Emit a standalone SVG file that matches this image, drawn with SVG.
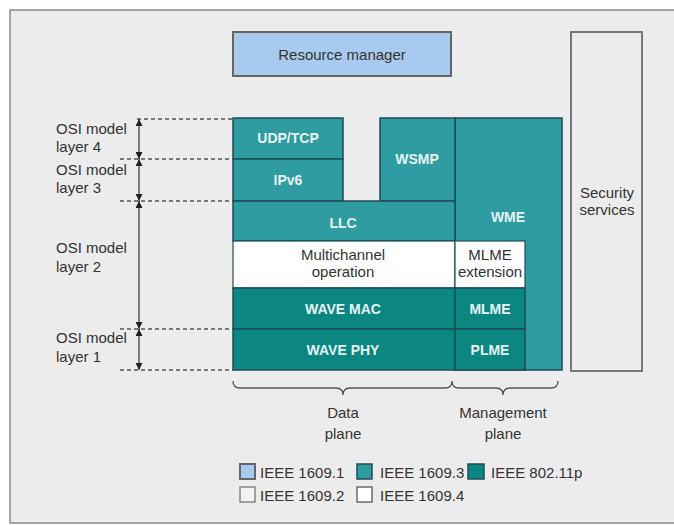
<svg xmlns="http://www.w3.org/2000/svg" width="674" height="525" viewBox="0 0 674 525">
<style>
text{font-family:"Liberation Sans",Arial,sans-serif;}
.lbl{font-size:15px;fill:#333;}
.blk{font-size:14px;font-weight:bold;fill:#e6f4f4;text-anchor:middle;}
.dk{font-size:15px;fill:#333;text-anchor:middle;}
.t3{fill:#2f9ca1;stroke:#1d4c5a;stroke-width:1.5;}
.t11p{fill:#0c8680;stroke:#1d4c5a;stroke-width:1.5;}
.wht{fill:#ffffff;stroke:#1d4c5a;stroke-width:1.2;}
.t1{fill:#a9caef;stroke:#666;stroke-width:2;}
.t2{fill:#ececec;stroke:#777;stroke-width:2;}
.dash{stroke:#555;stroke-width:1.3;stroke-dasharray:4 3;fill:none;}
.arr{stroke:#333;stroke-width:1.2;fill:none;marker-start:url(#ah);marker-end:url(#ah);}
.leg{font-size:15px;fill:#333;}
</style>
<defs>
<marker id="ah" viewBox="0 0 10 10" refX="10" refY="5" markerWidth="7" markerHeight="7" markerUnits="userSpaceOnUse" orient="auto-start-reverse">
<path d="M0,0 L10,5 L0,10 z" fill="#222"/>
</marker>
</defs>
<rect x="0" y="0" width="674" height="525" fill="#ffffff"/>
<rect x="10" y="10" width="680" height="513" fill="#ececec" stroke="#8a8a8a" stroke-width="1.5"/>

<g id="resource-manager">
<rect class="t1" x="233" y="32" width="218" height="44"/>
<text class="dk" x="342" y="60">Resource manager</text>
</g>
<g id="security-services">
<rect class="t2" x="571" y="32" width="71" height="339"/>
<text class="dk" x="607" y="198">Security</text>
<text class="dk" x="607" y="215">services</text>
</g>
<g id="wme">
<rect class="t3" x="455" y="118" width="107" height="252"/>
<text class="blk" x="508" y="222">WME</text>
</g>
<g id="udp-tcp">
<rect class="t3" x="233" y="118" width="110" height="41"/>
<text class="blk" x="288" y="143">UDP/TCP</text>
</g>
<g id="ipv6">
<rect class="t3" x="233" y="159" width="110" height="42"/>
<text class="blk" x="288" y="185">IPv6</text>
</g>
<g id="wsmp">
<rect class="t3" x="380" y="118" width="75" height="83"/>
<text class="blk" x="417" y="164">WSMP</text>
</g>
<g id="llc">
<rect class="t3" x="233" y="201" width="222" height="40"/>
<text class="blk" x="343" y="228">LLC</text>
</g>
<g id="multichannel">
<rect class="wht" x="233" y="241" width="222" height="47"/>
<text class="dk" x="343" y="260">Multichannel</text>
<text class="dk" x="343" y="277">operation</text>
</g>
<g id="mlme-extension">
<rect class="wht" x="455" y="241" width="70" height="47"/>
<text class="dk" x="490" y="260">MLME</text>
<text class="dk" x="490" y="277">extension</text>
</g>
<g id="wave-mac">
<rect class="t11p" x="233" y="288" width="222" height="41"/>
<text class="blk" x="343" y="314">WAVE MAC</text>
</g>
<g id="mlme">
<rect class="t11p" x="455" y="288" width="70" height="41"/>
<text class="blk" x="490" y="314">MLME</text>
</g>
<g id="wave-phy">
<rect class="t11p" x="233" y="329" width="222" height="41"/>
<text class="blk" x="343" y="355">WAVE PHY</text>
</g>
<g id="plme">
<rect class="t11p" x="455" y="329" width="70" height="41"/>
<text class="blk" x="490" y="355">PLME</text>
</g>

<g id="osi-labels">
<text class="lbl" x="56" y="134">OSI model</text>
<text class="lbl" x="56" y="152">layer 4</text>
<text class="lbl" x="56" y="175">OSI model</text>
<text class="lbl" x="56" y="193">layer 3</text>
<text class="lbl" x="56" y="253">OSI model</text>
<text class="lbl" x="56" y="272">layer 2</text>
<text class="lbl" x="56" y="343">OSI model</text>
<text class="lbl" x="56" y="362">layer 1</text>
</g>

<g id="connectors">
<line class="dash" x1="137" y1="119" x2="233" y2="119"/>
<line class="dash" x1="120" y1="159" x2="233" y2="159"/>
<line class="dash" x1="120" y1="201" x2="233" y2="201"/>
<line class="dash" x1="120" y1="329" x2="233" y2="329"/>
<line class="dash" x1="120" y1="370" x2="233" y2="370"/>
<line class="arr" x1="139" y1="119" x2="139" y2="159"/>
<line class="arr" x1="139" y1="159" x2="139" y2="201"/>
<line class="arr" x1="139" y1="201" x2="139" y2="329"/>
<line class="arr" x1="139" y1="329" x2="139" y2="370"/>
<path d="M233,381 Q233,388 240,388 L336,388 Q343,388 343,395 Q343,388 350,388 L445,388 Q452,388 452,381 Q452,388 459,388 L496,388 Q503,388 503,395 Q503,388 510,388 L551,388 Q558,388 558,381" fill="none" stroke="#555" stroke-width="1.3"/>
</g>

<g id="plane-labels">
<text class="dk" x="343" y="418">Data</text>
<text class="dk" x="343" y="439">plane</text>
<text class="dk" x="503" y="418">Management</text>
<text class="dk" x="503" y="439">plane</text>
</g>

<g id="legend">
<rect class="t1" x="240" y="464" width="15" height="15" stroke-width="1.5"/>
<text class="leg" x="260" y="478">IEEE 1609.1</text>
<rect class="t3" x="357" y="464" width="15" height="15"/>
<text class="leg" x="380" y="478">IEEE 1609.3</text>
<rect class="t11p" x="468" y="464" width="16" height="15"/>
<text class="leg" x="491" y="478">IEEE 802.11p</text>
<rect x="240" y="487" width="15" height="15" fill="#f2f2f2" stroke="#777" stroke-width="1.3"/>
<text class="leg" x="260" y="501">IEEE 1609.2</text>
<rect x="357" y="487" width="15" height="15" fill="#ffffff" stroke="#555" stroke-width="1.3"/>
<text class="leg" x="380" y="501">IEEE 1609.4</text>
</g>
</svg>
